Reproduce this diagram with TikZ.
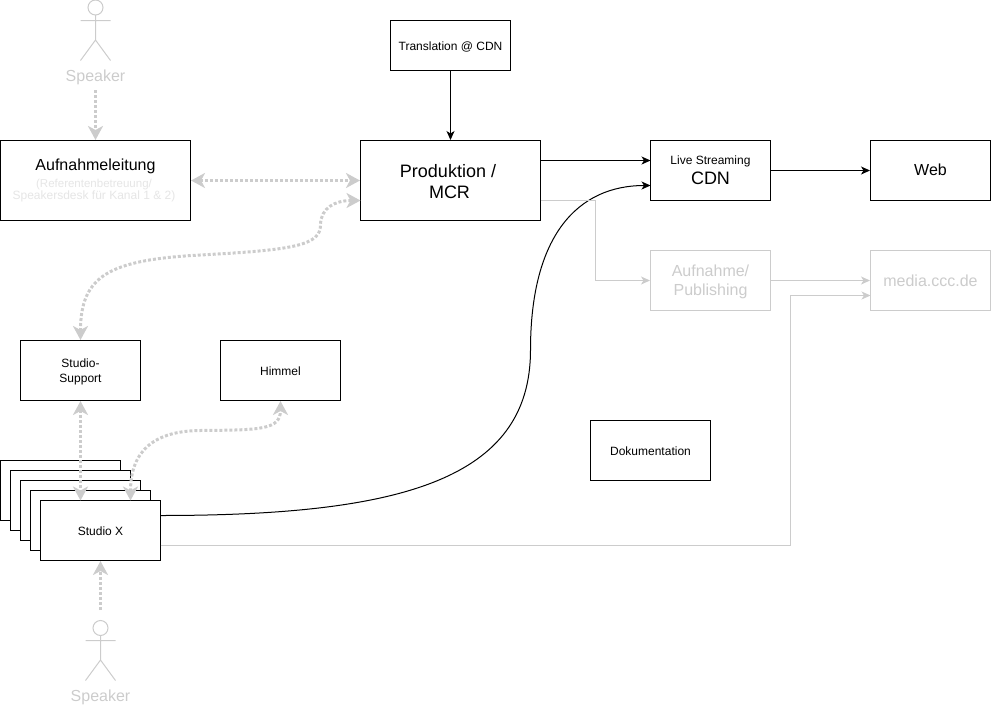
\documentclass[tikz,border=0pt]{standalone}
\usepackage{fontspec}
\setmainfont{Liberation Sans}
\usetikzlibrary{arrows.meta}
\definecolor{muted}{HTML}{CCCCCC}
\definecolor{faint}{HTML}{E6E6E6}
\newcommand{\fs}[1]{\fontsize{#1}{1.2\dimexpr#1pt\relax}\selectfont}
\tikzset{
  box/.style={draw, fill=white, line width=1pt, minimum width=120pt, minimum height=60pt, inner sep=2pt, align=center, font=\fs{12}},
  oneline/.style={text height=11pt},
  mutedbox/.style={box, draw=muted, text=muted, font=\fs{16}},
  flow/.style={line width=1pt, -{Stealth[length=9pt,width=8pt,inset=2.5pt]}},
  mutedflow/.style={flow, draw=muted},
  link/.style={draw=muted, line width=3pt, dotted, -{Stealth[length=14pt,width=15pt,inset=4pt]}},
  duplex/.style={link, {Stealth[length=14pt,width=15pt,inset=4pt]}-{Stealth[length=14pt,width=15pt,inset=4pt]}},
  actor/.style={draw=muted, line width=1pt},
  actorlabel/.style={text=muted, font=\fs{16}, inner sep=0pt},
}
\begin{document}
\begin{tikzpicture}[x=1pt, y=-1pt]
  \useasboundingbox (0,0) rectangle (991,707);
  % main boxes
  \node[box, minimum width=190pt, minimum height=80pt] (leitung) at (95.5,180.5)
    {\fs{16}Aufnahmeleitung\\[3pt]\fs{11.5}\color{faint}(Referentenbetreuung/\hspace*{3pt}\\[-2pt]\fs{12}\color{faint}Speakersdesk für Kanal 1 \& 2)\hspace*{3pt}};
  \node[box, minimum width=180pt, minimum height=80pt, font=\fs{18}, text height=37pt] (produktion) at (450.5,180.5) {Produktion /\hspace*{5pt}\\MCR\hspace*{2pt}};
  \node[box, oneline, minimum height=50pt] (translation) at (450.5,45.5) {Translation @ CDN};
  \node[box] (cdn) at (710.5,170.5) {Live Streaming\\[4pt]\fs{18}CDN};
  \node[box, font=\fs{16}, text height=11pt, text depth=2pt] (web) at (930.5,170.5) {Web};
  \node[mutedbox, text height=33pt] (publishing) at (710.5,280.5) {Aufnahme/\\Publishing};
  \node[mutedbox] (media) at (930.5,280.5) {media.ccc.de};
  \node[box, text height=27pt] (support) at (80.5,370.5) {Studio-\\[1pt]Support};
  \node[box, oneline] (himmel) at (280.5,370.5) {Himmel};
  \node[box, oneline] (doku) at (650.5,450.5) {Dokumentation};
  % stack of studios
  \node[box] (studioA) at (60.5,490.5) {};
  \node[box] (studioB) at (70.5,500.5) {};
  \node[box] (studioC) at (80.5,510.5) {};
  \node[box] (studioD) at (90.5,520.5) {};
  \node[box, oneline] (studio) at (100.5,530.5) {Studio X};
  % speakers
  \draw[actor] (95.5,7.5) circle (7.5pt);
  \draw[actor] (95.5,15) -- (95.5,40) (80.5,20.5) -- (110.5,20.5) (80.5,60.5) -- (95.5,40) -- (110.5,60.5);
  \node[actorlabel] (speakerTop) at (95.5,77) {Speaker};
  \draw[actor] (100.5,628) circle (7.5pt);
  \draw[actor] (100.5,635.5) -- (100.5,660) (85.5,640.5) -- (115.5,640.5) (85.5,680.5) -- (100.5,660) -- (115.5,680.5);
  \node[actorlabel] (speakerBottom) at (100.5,697) {Speaker};
  % free ends on the box sides
  \coordinate (prodLow) at (360.5,200.5);
  \coordinate (prodOut) at (540.5,160.5);
  \coordinate (prodMuted) at (540.5,200.5);
  \coordinate (cdnHigh) at (650.5,160.5);
  \coordinate (cdnLow) at (650.5,185.5);
  \coordinate (mediaLow) at (870.5,295.5);
  \coordinate (studioTopA) at (80.5,500.5);
  \coordinate (studioTopB) at (130.5,500.5);
  \coordinate (studioOut) at (160.5,515.5);
  \coordinate (studioMuted) at (160.5,545.5);
  % solid flows
  \draw[flow] (translation) -- (produktion);
  \draw[flow] (prodOut) -- (cdnHigh);
  \draw[flow] (cdn) -- (web);
  \draw[flow] (studioOut) .. controls (400,515.5) and (530.5,480) .. (530.5,350)
    .. controls (530.5,235) and (578,185.5) .. (cdnLow);
  % muted flows
  \draw[mutedflow] (prodMuted) -- (595.5,200.5) -- (595.5,280.5) -- (publishing);
  \draw[mutedflow] (publishing) -- (media);
  \draw[mutedflow] (studioMuted) -- (790.5,545.5) -- (790.5,295.5) -- (mediaLow);
  % dotted links
  \draw[link] (95.5,90) -- (leitung);
  \draw[duplex] (leitung) -- (produktion);
  \draw[duplex] (prodLow) .. controls (335,200.5) and (320.5,208) .. (320.5,225)
    .. controls (320.5,245) and (295,250) .. (200,255)
    .. controls (110,260) and (80.5,275) .. (support);
  \draw[duplex] (support) -- (studioTopA);
  \draw[duplex] (studioTopB) .. controls (130.5,450) and (155,431) .. (200,430.5)
    .. controls (260,430) and (280.5,430) .. (himmel);
  \draw[link] (100.5,610) -- (studio);
\end{tikzpicture}
\end{document}
